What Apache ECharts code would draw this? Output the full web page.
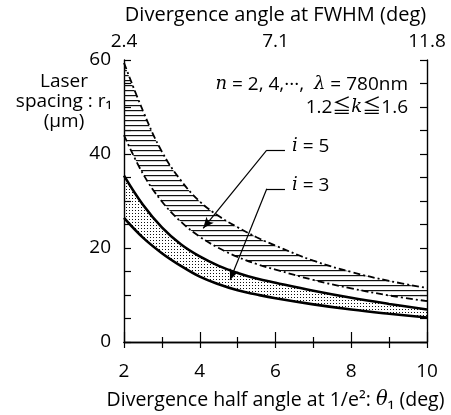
<!DOCTYPE html>
<html>
<head>
<meta charset="utf-8">
<script src="https://cdn.jsdelivr.net/npm/echarts@6/dist/echarts.min.js"></script>
<style>
  html, body { margin: 0; padding: 0; background: #fff; }
  #main { width: 451px; height: 415px; }
</style>
</head>
<body>
<div id="main"></div>
<script>
// data
var xVals = [2, 2.5, 3, 3.5, 4, 4.5, 5, 5.5, 6, 7, 8, 9, 10];
var i3Low = [26.4, 22.2, 18.9, 16.2, 13.9, 12.3, 11.0, 10.1, 9.3, 8.0, 6.9, 6.0, 5.2];
var i3High = [35.4, 29.2, 24.4, 20.8, 18.2, 16.2, 14.7, 13.5, 12.6, 10.9, 9.4, 8.1, 6.9];
var i5Low = [44.0, 35.8, 29.9, 25.6, 22.4, 20.0, 18.1, 16.6, 15.4, 13.2, 11.4, 9.9, 8.7];
var i5High = [59.4, 49.2, 40.5, 34.4, 29.9, 26.8, 24.4, 22.3, 20.5, 17.3, 14.9, 13.0, 11.5];
var topTicks = {2: '2.4', 6: '7.1', 10: '11.8'};

var FONT = '"Open Sans", "Noto Sans CJK JP", sans-serif';

// fill patterns
var makePattern = function(w, h, draw) {
	var c = document.createElement('canvas');
	c.width = w;
	c.height = h;
	var g = c.getContext('2d');
	g.fillStyle = '#111';
	draw(g);
	return { image: c, repeat: 'repeat' };
};
var hatch = makePattern(8, 5, function(g) { g.fillRect(0, 0, 8, 1.2); });
var dots = makePattern(3, 3, function(g) { g.fillRect(0, 0, 1, 1); });

// rows are [y, x] so that the stack sums the y dimension
var rows = function(ys) {
	return xVals.map(function(x, i) { return [ys[i], x]; });
};
var diffRows = function(hi, lo) {
	return xVals.map(function(x, i) { return [+(hi[i] - lo[i]).toFixed(2), x]; });
};

var solid = { color: '#000', width: 2.6, type: 'solid' };
var dashDot = { color: '#000', width: 1.8, type: [7, 3, 2, 3] };
var tickStyle = { color: '#000', width: 1.2 };
var italic = { fontFamily: 'DejaVu Serif', fontStyle: 'italic', fontSize: 18 };

var curve = function(name, stack, style, data, area) {
	var s = {
		name: name, type: 'line', stack: stack, symbol: 'none', smooth: 0.4,
		encode: { x: 1, y: 0 }, lineStyle: style, data: data
	};
	if (area) {
		s.areaStyle = { color: area, opacity: 1 };
	}
	return s;
};

var myChart = echarts.init(document.getElementById('main'));
var option = {
	animation: false,
	backgroundColor: '#fff',
	grid: { left: 124, right: 24, top: 57, bottom: 72 },
	xAxis: [
		{
			type: 'value', position: 'bottom', min: 2, max: 10, interval: 2,
			axisLine: { lineStyle: { color: '#000', width: 1.4 } },
			axisTick: { inside: true, length: 10, lineStyle: tickStyle },
			minorTick: { show: true, splitNumber: 2, length: 5, lineStyle: tickStyle },
			splitLine: { show: false },
			axisLabel: { margin: 20, color: '#000', fontSize: 19, fontFamily: FONT },
			name: '{a|Divergence half angle at 1/e²: }{it|θ}{a|₁ (deg)}',
			nameLocation: 'middle', nameGap: 48,
			nameTextStyle: {
				rich: {
					a: { fontSize: 19.5, fontFamily: FONT, color: '#000' },
					it: { fontSize: 19.5, fontFamily: 'DejaVu Serif', fontStyle: 'italic', color: '#000' }
				}
			}
		},
		{
			type: 'value', position: 'top', min: 2, max: 10, interval: 4,
			axisLine: { lineStyle: { color: '#000', width: 1.4 } },
			axisTick: { inside: true, length: 6, lineStyle: tickStyle },
			minorTick: { show: true, splitNumber: 4, length: 6, lineStyle: tickStyle },
			splitLine: { show: false },
			axisLabel: {
				margin: 9, color: '#000', fontSize: 19, fontFamily: FONT,
				formatter: function(v) { return topTicks[v] || ''; }
			},
			name: 'Divergence angle at FWHM (deg)',
			nameLocation: 'middle', nameGap: 35,
			nameTextStyle: { fontSize: 20, fontFamily: FONT, color: '#000' }
		}
	],
	yAxis: [
		{
			type: 'value', position: 'left', min: 0, max: 60, interval: 20,
			axisLine: { show: true, lineStyle: { color: '#000', width: 1.4 } },
			axisTick: { show: true, inside: true, length: 7, lineStyle: tickStyle },
			minorTick: { show: true, splitNumber: 4, length: 7, lineStyle: tickStyle },
			splitLine: { show: false },
			axisLabel: { margin: 13, color: '#000', fontSize: 19, fontFamily: FONT }
		},
		{
			type: 'value', position: 'right', min: 0, max: 60, interval: 20,
			axisLine: { show: true, lineStyle: { color: '#000', width: 1.4 } },
			axisTick: { show: true, inside: true, length: 7, lineStyle: tickStyle },
			minorTick: { show: true, splitNumber: 4, length: 7, lineStyle: tickStyle },
			splitLine: { show: false },
			axisLabel: { show: false }
		}
	],
	series: [
		curve('i3 low', 'i3', solid, rows(i3Low)),
		curve('i3 band', 'i3', solid, diffRows(i3High, i3Low), dots),
		curve('i5 low', 'i5', dashDot, rows(i5Low)),
		curve('i5 band', 'i5', dashDot, diffRows(i5High, i5Low), hatch),
		{
			// leader lines for the i = 5 / i = 3 labels
			name: 'leaders', type: 'line', data: [],
			markLine: {
				silent: true, symbolSize: [7, 11],
				label: { show: false },
				lineStyle: { color: '#000', width: 1.2, type: 'solid' },
				data: [
					[{ coord: [5.77, 40.8], symbol: 'none' }, { coord: [6.25, 40.8], symbol: 'none' }],
					[{ coord: [5.77, 40.8], symbol: 'none' }, { coord: [4.09, 24.2], symbol: 'arrow' }],
					[{ coord: [5.77, 32.6], symbol: 'none' }, { coord: [6.25, 32.6], symbol: 'none' }],
					[{ coord: [5.77, 32.6], symbol: 'none' }, { coord: [4.80, 13.2], symbol: 'arrow' }]
				]
			}
		}
	],
	graphic: [
		{
			type: 'text', x: 64, y: 72,
			style: {
				text: 'Laser\nspacing : r₁\n(μm)', align: 'center',
				font: '19px ' + FONT, lineHeight: 20, fill: '#000'
			}
		},
		{
			type: 'text', x: 408, y: 73,
			style: {
				text: '{it|n} = 2, 4,···,  {it|λ} = 780nm\n1.2≦{it|k}≦1.6', align: 'right',
				font: '19px ' + FONT, lineHeight: 23, fill: '#000',
				rich: { it: italic }
			}
		},
		{
			type: 'text', x: 292, y: 137,
			style: { text: '{it|i} = 5', font: '19px ' + FONT, fill: '#000', rich: { it: italic } }
		},
		{
			type: 'text', x: 292, y: 176,
			style: { text: '{it|i} = 3', font: '19px ' + FONT, fill: '#000', rich: { it: italic } }
		}
	]
};
myChart.setOption(option);
</script>
</body>
</html>
